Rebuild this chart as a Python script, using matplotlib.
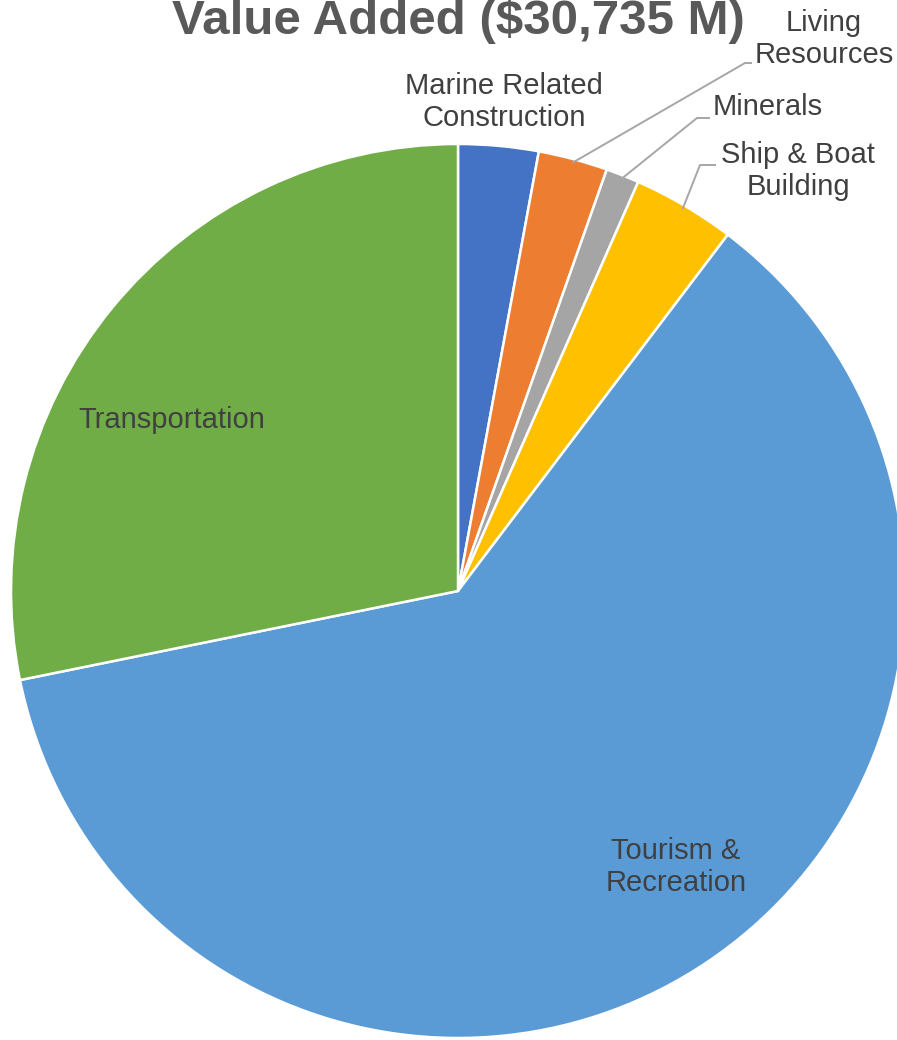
import numpy as np
import matplotlib

matplotlib.use("Agg")

import matplotlib.pyplot as plt

# =========================
# データ (百万ドル)
# =========================
categories = ["Marine Related\nConstruction", "Living\nResources", "Minerals",
              "Ship & Boat\nBuilding", "Tourism &\nRecreation", "Transportation"]
values = [890, 770, 370, 1140, 18900, 8665]
colors = ["#4472C4", "#ED7D31", "#A5A5A5", "#FFC000", "#5B9BD5", "#70AD47"]
title = "Value Added ($30,735 M)"

# =========================
# 図の設定 (ピクセル座標)
# =========================
W, H = 897, 1040
CX, CY, R = 458, 591, 447
TEXT = "#404040"
LEADER = "#A6A6A6"

plt.rcParams["font.family"] = ["Liberation Sans", "DejaVu Sans"]

fig = plt.figure(figsize=(W / 100, H / 100), dpi=100)
ax = fig.add_axes([0, 0, 1, 1])


def fy(y):
    return H - y


ax.pie(values, colors=colors, startangle=90, counterclock=False,
       center=(CX, fy(CY)), radius=R,
       wedgeprops=dict(edgecolor="white", linewidth=1.8))
ax.set_xlim(0, W)
ax.set_ylim(0, H)
ax.set_aspect("equal")
ax.axis("off")

# タイトル (参照画像と同じく上が少し切れている)
ax.text(458, fy(21), title, ha="center", va="center", fontsize=35.5,
        fontweight="bold", color="#595959")

# ラベル位置
label_pos = [(504, 102), (824, 39), (768, 107), (798, 171), (676, 867), (172, 420)]
for lab, (x, y) in zip(categories, label_pos):
    ax.text(x, fy(y), lab, ha="center", va="center", fontsize=21,
            color=TEXT, linespacing=1.18)

# 引き出し線
total = sum(values)
cum = np.cumsum(values)
elbows = {1: (745, 63, 752), 2: (697, 118, 710), 3: (700, 165, 716)}
for i, (ex, ey, hx) in elbows.items():
    mid = (cum[i] - values[i] / 2) / total * 2 * np.pi
    sx = CX + (R - 4) * np.sin(mid)
    sy = CY - (R - 4) * np.cos(mid)
    ax.plot([sx, ex, hx], [fy(sy), fy(ey), fy(ey)], color=LEADER, lw=1.4,
            solid_capstyle="butt")

plt.savefig("out.png", dpi=100)
